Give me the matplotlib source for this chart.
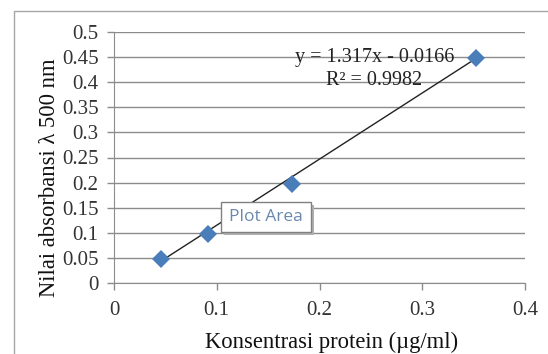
import numpy as np
import matplotlib.pyplot as plt
from matplotlib.patches import Rectangle

# data
konsentrasi = [0.0454, 0.0912, 0.173, 0.352]
absorbansi = [0.047, 0.0976, 0.197, 0.4476]
slope, intercept = 1.317, -0.0166
eq_text = 'y = 1.317x - 0.0166'
r2_text = 'R² = 0.9982'

W, H = 548, 354
plt.rcParams['font.family'] = ['Liberation Serif', 'DejaVu Serif']
fig = plt.figure(figsize=(W/100, H/100), dpi=100)

# outer chart border (cut off at right and bottom)
fig.patches.append(Rectangle((14/W, -0.1), 1.2, 1.1 - 11/H, transform=fig.transFigure,
                             fill=False, edgecolor='#a6a6a6', lw=1.0))

ax = fig.add_axes([114/W, 1 - 283/H, (525 - 114)/W, (283 - 32)/H])
ax.set_xlim(0, 0.4)
ax.set_ylim(0, 0.5)
ax.set_xticks(np.arange(0, 0.41, 0.1))
ax.set_yticks(np.arange(0, 0.501, 0.05))
ax.set_xticklabels(['0', '0.1', '0.2', '0.3', '0.4'])
ax.set_yticklabels(['0', '0.05', '0.1', '0.15', '0.2', '0.25', '0.3', '0.35', '0.4', '0.45', '0.5'])
ax.yaxis.grid(True, color='#8c8c8c', lw=1.0)
ax.set_axisbelow(True)
for s in ['top', 'right']:
    ax.spines[s].set_visible(False)
for s in ['left', 'bottom']:
    ax.spines[s].set_color('#8c8c8c')
ax.tick_params(axis='both', colors='#8c8c8c', labelcolor='#333333', labelsize=15, length=5, width=1)
ax.tick_params(axis='x', pad=8)
ax.tick_params(axis='y', pad=6)

# trendline
xs = np.array([konsentrasi[0], konsentrasi[-1]])
ax.plot(xs, slope * xs + intercept, color='#222222', lw=1.0, zorder=3)
ax.plot(konsentrasi, absorbansi, 'D', color='#4a7ebb', markersize=9.5, markeredgewidth=0, zorder=4)

ax.text(0.2535, 0.449, eq_text, fontsize=14.5, ha='center', va='center', color='#222222')
ax.text(0.2535, 0.403, r2_text, fontsize=14.5, ha='center', va='center', color='#222222')

ax.set_xlabel('Konsentrasi protein (µg/ml)', fontsize=16.3, color='#111111')
ax.set_ylabel('Nilai absorbansi λ 500 nm', fontsize=16.3, color='#111111')
ax.xaxis.set_label_coords(0.53, -0.235)
ax.yaxis.set_label_coords(-0.156, 0.42)
ax.xaxis.label.set_va('center')
ax.yaxis.label.set_va('center')

# "Plot Area" tooltip
bx0, by0, bx1, by1 = 221, 202, 311, 232
fig.patches.append(Rectangle(((bx0 + 3)/W, 1 - (by1 + 3)/H), (bx1 - bx0)/W, (by1 - by0)/H,
                             transform=fig.transFigure, facecolor='#b0b0b0', edgecolor='none', zorder=5))
fig.patches.append(Rectangle((bx0/W, 1 - by1/H), (bx1 - bx0)/W, (by1 - by0)/H,
                             transform=fig.transFigure, facecolor='white', edgecolor='#808080', lw=1, zorder=6))
fig.text((bx0 + bx1)/2/W, 1 - (by0 + by1)/2/H, 'Plot Area', fontsize=12.5, family='Open Sans',
         color='#6a88ad', ha='center', va='center', zorder=7)

fig.savefig('out.png', dpi=100)
